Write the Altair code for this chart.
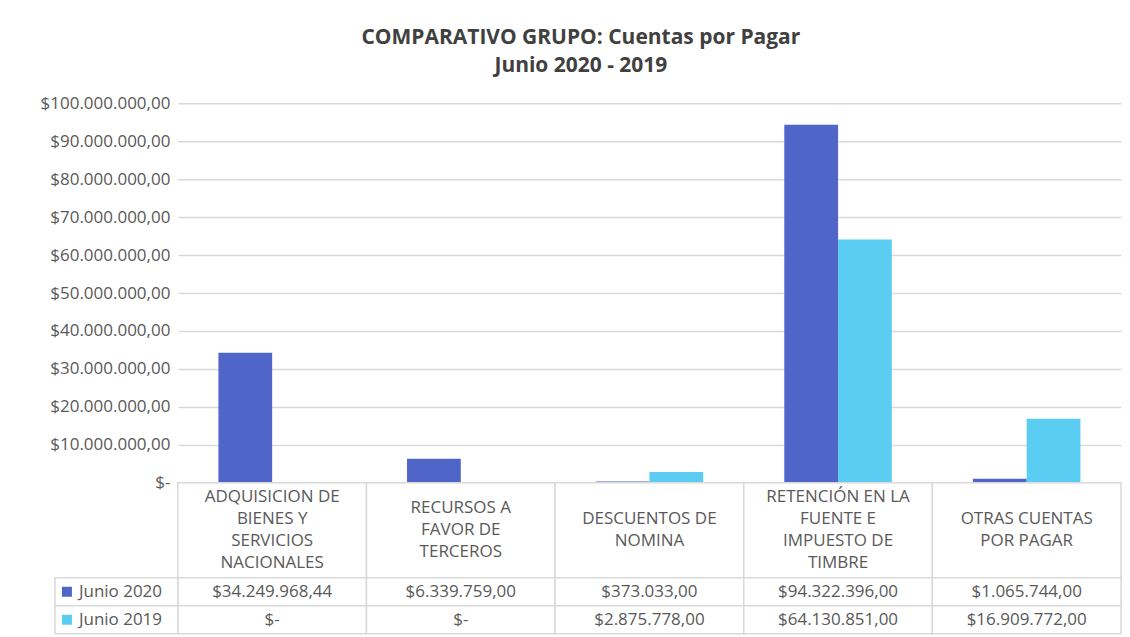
import altair as alt
import pandas as pd

categories = [
    "ADQUISICION DE\nBIENES Y\nSERVICIOS\nNACIONALES",
    "RECURSOS A\nFAVOR DE\nTERCEROS",
    "DESCUENTOS DE\nNOMINA",
    "RETENCIÓN EN LA\nFUENTE E\nIMPUESTO DE\nTIMBRE",
    "OTRAS CUENTAS\nPOR PAGAR",
]
series = ["Junio 2020", "Junio 2019"]
junio_2020 = [34249968.44, 6339759.00, 373033.00, 94322396.00, 1065744.00]
junio_2019 = [0.0, 0.0, 2875778.00, 64130851.00, 16909772.00]
colors = ["#4F66C8", "#5BCDF2"]
y_ticks = [0, 10e6, 20e6, 30e6, 40e6, 50e6, 60e6, 70e6, 80e6, 90e6, 100e6]

FONT = "Open Sans"
TXT = "#595959"
LINE = "#d9d9d9"
W = 944
H_PLOT = 380
H_HEAD = 95
H_ROWS = 56
LINE_H = 22


def money(v):
    if v == 0:
        return "$-"
    s = f"{v:,.2f}".replace(",", "#").replace(".", ",").replace("#", ".")
    return "$" + s


rows = []
for c, a, b in zip(categories, junio_2020, junio_2019):
    rows.append({"cat": c, "serie": series[0], "value": a, "label": money(a)})
    rows.append({"cat": c, "serie": series[1], "value": b, "label": money(b)})
df = pd.DataFrame(rows)
df_cats = pd.DataFrame({"cat": categories})
df_ser = pd.DataFrame({"serie": series})

lines = []
for c in categories:
    parts = c.split("\n")
    n = len(parts)
    for k, p in enumerate(parts):
        lines.append({"cat": c, "line": p, "off": k - (n - 1) / 2})
df_lines = pd.DataFrame(lines)

color_scale = alt.Scale(domain=series, range=colors)

label_expr = (
    "datum.value == 0 ? '$-' : '$' + "
    "replace(replace(replace(format(datum.value, ',.2f'), regexp(',', 'g'), '#'), "
    "regexp('[.]', 'g'), ','), regexp('#', 'g'), '.')"
)

bars = alt.Chart(df).mark_bar().encode(
    x=alt.X("cat:N", sort=categories,
            scale=alt.Scale(paddingInner=0.43, paddingOuter=0.215), axis=None),
    xOffset=alt.XOffset("serie:N", sort=series),
    y=alt.Y("value:Q", scale=alt.Scale(domain=[0, 100e6]),
            axis=alt.Axis(values=y_ticks, labelExpr=label_expr, grid=True,
                          gridColor=LINE, gridWidth=1.5, domain=False, ticks=False,
                          labelPadding=8, labelFontSize=17, labelColor=TXT,
                          labelFont=FONT, title=None)),
    color=alt.Color("serie:N", scale=color_scale, legend=None),
).properties(width=W, height=H_PLOT, view=alt.ViewBackground(stroke=None))

xcat = alt.X("cat:N", sort=categories,
             scale=alt.Scale(paddingInner=0, paddingOuter=0), axis=None)

half = H_HEAD / 2 / LINE_H
header = alt.layer(
    alt.Chart(df_cats).mark_rect(fill="white", stroke=LINE, strokeWidth=1.5).encode(x=xcat),
    alt.Chart(df_lines).mark_text(fontSize=17, font=FONT, color=TXT,
                                  baseline="middle").encode(
        x=xcat,
        y=alt.Y("off:Q", scale=alt.Scale(domain=[-half, half], reverse=True,
                                         nice=False, zero=False), axis=None),
        text="line:N"),
).properties(width=W, height=H_HEAD, view=alt.ViewBackground(stroke=None))

yser = alt.Y("serie:N", sort=series,
             scale=alt.Scale(paddingInner=0, paddingOuter=0), axis=None)

cells = alt.Chart(df)
legend_base = alt.Chart(df_ser)
table = alt.layer(
    cells.mark_rect(fill="white", stroke=LINE, strokeWidth=1.5).encode(x=xcat, y=yser),
    cells.mark_text(fontSize=17, font=FONT, color=TXT).encode(x=xcat, y=yser, text="label:N"),
    legend_base.mark_rect(fill="white", stroke=LINE, strokeWidth=1.5).encode(
        x=alt.value(-123), x2=alt.value(0), y=yser),
    legend_base.mark_square(size=100, opacity=1).encode(
        x=alt.value(-111), y=yser,
        color=alt.Color("serie:N", scale=color_scale, legend=None)),
    legend_base.mark_text(align="left", fontSize=17, font=FONT, color=TXT).encode(
        x=alt.value(-99), y=yser, text="serie:N"),
).properties(width=W, height=H_ROWS, view=alt.ViewBackground(stroke=None))

chart = alt.vconcat(bars, header, table, spacing=0, bounds="flush").properties(
    title=alt.TitleParams(
        ["COMPARATIVO GRUPO: Cuentas por Pagar", "Junio 2020 - 2019"],
        anchor="middle", fontSize=21, fontWeight="bold", font=FONT,
        color="#404040", lineHeight=28, offset=18),
    padding={"left": 32, "top": 19, "right": 0, "bottom": 0},
    background="white",
).configure_view(stroke=None)

chart.save("out.html", embed_options={"renderer": "svg", "actions": False})
